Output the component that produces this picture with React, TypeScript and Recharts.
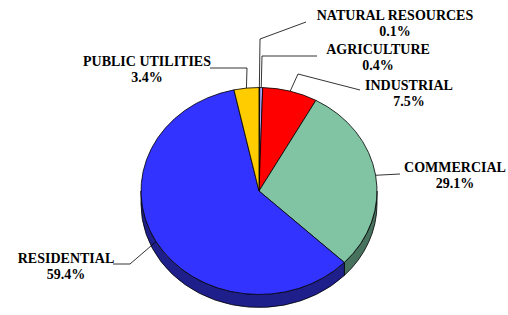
import React from 'react';
import { PieChart, Pie, Cell } from 'recharts';

const categories = ['NATURAL RESOURCES', 'AGRICULTURE', 'INDUSTRIAL', 'COMMERCIAL', 'RESIDENTIAL', 'PUBLIC UTILITIES'];
const shares = [0.1, 0.4, 7.5, 29.1, 59.4, 3.4];
const shareLabels = ['0.1%', '0.4%', '7.5%', '29.1%', '59.4%', '3.4%'];

const data = categories.map((name, i) => ({ name, value: shares[i], pct: shareLabels[i] }));

const topColors = ['#3a3a8c', '#a8a8ff', '#ff0000', '#80c4a4', '#3333ff', '#ffcc00'];
const sideColors = ['#1d1d46', '#545480', '#800000', '#47725e', '#1f1f8c', '#806600'];

const CX = 259;
const CY = 191;
const R = 118;
const K = 0.877;
const DEPTH = 13;
const RAD = Math.PI / 180;

const labelLayout = [
  { tx: 395, ty: 20, pts: [[260, 39], [306, 22]] },
  { tx: 378, ty: 54, pts: [[262, 56], [317, 56]] },
  { tx: 409, ty: 90, pts: [[298, 74], [360, 90]] },
  { tx: 455, ty: 172, pts: [[400, 174]] },
  { tx: 66, ty: 263, pts: [[130, 264], [113, 264]] },
  { tx: 147, ty: 66, pts: [[247, 68], [210, 68]] },
];

const FONT: React.CSSProperties = {
  fontFamily: 'Liberation Serif',
  fontWeight: 'bold',
  fontSize: '14px',
};

const pt = (cx: number, cy: number, r: number, a: number, dy = 0) => [
  cx + r * Math.cos(a * RAD),
  cy - K * r * Math.sin(a * RAD) + dy,
];

const TopShape = (props: any) => {
  const { cx, cy, outerRadius, startAngle, endAngle, fill } = props;
  const span = Math.abs(startAngle - endAngle);
  const [x1, y1] = pt(cx, cy, outerRadius, startAngle);
  const [x2, y2] = pt(cx, cy, outerRadius, endAngle);
  const large = span > 180 ? 1 : 0;
  const sweep = startAngle > endAngle ? 1 : 0;
  const d = `M${cx},${cy} L${x1},${y1} A${outerRadius},${outerRadius * K} 0 ${large} ${sweep} ${x2},${y2} Z`;
  return <path d={d} fill={fill} stroke="#000" strokeWidth={0.8} strokeLinejoin="round" />;
};

const SideShape = (props: any) => {
  const { cx, cy, outerRadius, startAngle, endAngle, fill } = props;
  const hi = Math.max(startAngle, endAngle);
  const lo = Math.min(startAngle, endAngle);
  const paths: string[] = [];
  [[-180, 0], [180, 360], [-540, -360]].forEach(([a, b]) => {
    const s = Math.max(lo, a);
    const e = Math.min(hi, b);
    if (e - s > 0.01) {
      const [tx2, ty2] = pt(cx, cy, outerRadius, e);
      const [tx1, ty1] = pt(cx, cy, outerRadius, s);
      const [bx1, by1] = pt(cx, cy, outerRadius, s, DEPTH);
      const [bx2, by2] = pt(cx, cy, outerRadius, e, DEPTH);
      const large = e - s > 180 ? 1 : 0;
      paths.push(
        `M${tx2},${ty2} A${outerRadius},${outerRadius * K} 0 ${large} 1 ${tx1},${ty1} L${bx1},${by1} A${outerRadius},${outerRadius * K} 0 ${large} 0 ${bx2},${by2} Z`
      );
    }
  });
  if (!paths.length) return <g />;
  return (
    <g>
      {paths.map((d, i) => (
        <path key={i} d={d} fill={fill} stroke="#000" strokeWidth={0.8} strokeLinejoin="round" />
      ))}
    </g>
  );
};

const renderLabel = (props: any) => {
  const { cx, cy, outerRadius, midAngle, index, payload } = props;
  const lay = labelLayout[index];
  const [rx, ry] = pt(cx, cy, outerRadius, midAngle);
  const all = [[rx, ry], ...lay.pts];
  const d = all.map((p, i) => `${i ? 'L' : 'M'}${p[0]},${p[1]}`).join(' ');
  const name = payload?.name ?? categories[index];
  const pct = payload?.pct ?? shareLabels[index];
  return (
    <g>
      <path d={d} fill="none" stroke="#000" strokeWidth={0.8} />
      <text x={lay.tx} y={lay.ty} textAnchor="middle" fill="#000" style={FONT}>
        {name}
      </text>
      <text x={lay.tx} y={lay.ty + 16} textAnchor="middle" fill="#000" style={FONT}>
        {pct}
      </text>
    </g>
  );
};

export default function App() {
  return (
    <div style={{ position: 'absolute', left: 0, top: 0, width: 508, height: 315, background: '#fff' }}>
      <PieChart width={508} height={315} margin={{ top: 0, right: 0, bottom: 0, left: 0 }}>
        <Pie
          data={data}
          dataKey="value"
          cx={CX}
          cy={CY}
          outerRadius={R}
          startAngle={90}
          endAngle={-270}
          isAnimationActive={false}
          shape={SideShape}
          stroke="none"
        >
          {data.map((_, i) => (
            <Cell key={i} fill={sideColors[i]} />
          ))}
        </Pie>
        <Pie
          data={data}
          dataKey="value"
          cx={CX}
          cy={CY}
          outerRadius={R}
          startAngle={90}
          endAngle={-270}
          isAnimationActive={false}
          shape={TopShape}
          label={renderLabel}
          labelLine={false}
        >
          {data.map((_, i) => (
            <Cell key={i} fill={topColors[i]} />
          ))}
        </Pie>
      </PieChart>
    </div>
  );
}
